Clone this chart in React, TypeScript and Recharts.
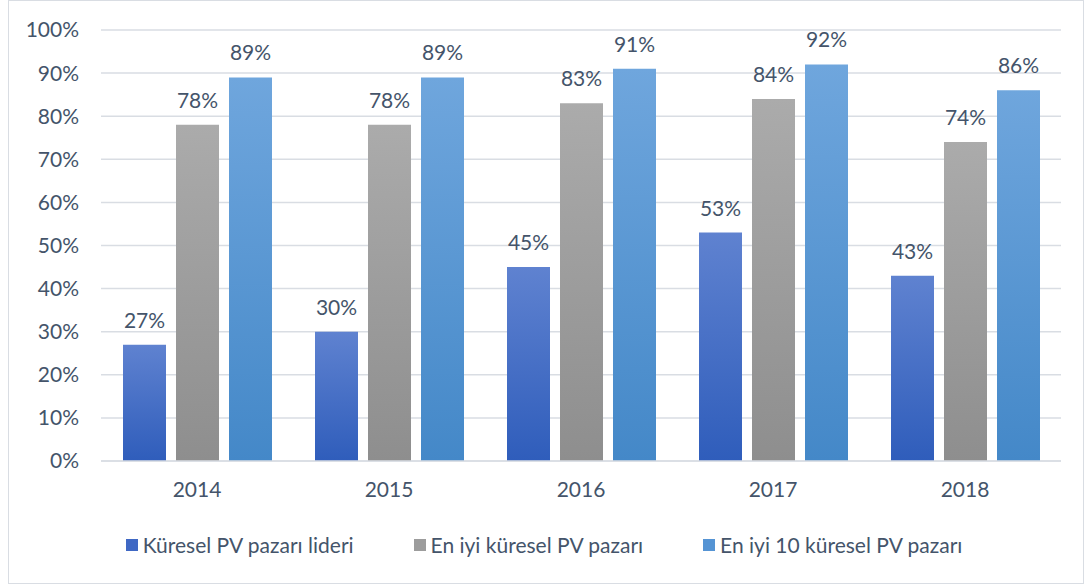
import { BarChart, Bar, XAxis, YAxis, CartesianGrid, LabelList } from 'recharts';

const years = ['2014', '2015', '2016', '2017', '2018'];
const leader = [27, 30, 45, 53, 43];
const topMarket = [78, 78, 83, 84, 74];
const top10 = [89, 89, 91, 92, 86];
const yTicks = [0, 10, 20, 30, 40, 50, 60, 70, 80, 90, 100];

const SERIES = [
  { key: 'leader', name: 'Küresel PV pazarı lideri', grad: 'gLeader', top: '#5F82D0', bottom: '#2F5DBB', swatch: '#3F68C4' },
  { key: 'top', name: 'En iyi küresel PV pazarı', grad: 'gTop', top: '#ABABAB', bottom: '#8E8E8E', swatch: '#9C9C9C' },
  { key: 'top10', name: 'En iyi 10 küresel PV pazarı', grad: 'gTop10', top: '#6FA6DD', bottom: '#4488C8', swatch: '#5594D4' },
];

const TEXT = '#44546A';
const FONT = 'Lato, "Open Sans", sans-serif';
const FS = 21;

const data = years.map((y, i) => ({
  year: y,
  leader: leader[i],
  top: topMarket[i],
  top10: top10[i],
}));

export default function App() {
  return (
    <div style={{ position: 'absolute', left: 0, top: 0, width: 1088, height: 587, background: '#fff', fontFamily: FONT }}>
      <div
        style={{
          position: 'absolute',
          left: 8,
          top: 0,
          width: 1074,
          height: 582,
          border: '1px solid #D9DDE3',
        }}
      />
      <div style={{ position: 'absolute', left: 0, top: 0 }}>
        <BarChart
          width={1088}
          height={510}
          data={data}
          margin={{ top: 30, right: 27, bottom: 0, left: 0 }}
          barCategoryGap={21}
          barGap={10}
        >
          <defs>
            {SERIES.map((s) => (
              <linearGradient key={s.grad} id={s.grad} x1="0" y1="0" x2="0" y2="1">
                <stop offset="0%" stopColor={s.top} />
                <stop offset="100%" stopColor={s.bottom} />
              </linearGradient>
            ))}
          </defs>
          <CartesianGrid vertical={false} stroke="#D9DDE3" strokeWidth={1.5} />
          <XAxis
            dataKey="year"
            axisLine={{ stroke: '#D9DDE3', strokeWidth: 1.5 }}
            tickLine={false}
            tickSize={0}
            tickMargin={21}
            height={49}
            tick={{ fill: TEXT, fontSize: FS, fontFamily: FONT }}
          />
          <YAxis
            domain={[0, 100]}
            ticks={yTicks}
            interval={0}
            width={101}
            axisLine={false}
            tickLine={false}
            tickSize={0}
            tickMargin={22}
            tickFormatter={(v) => `${v}%`}
            tick={{ fill: TEXT, fontSize: FS, fontFamily: FONT }}
          />
          {SERIES.map((s) => (
            <Bar key={s.key} dataKey={s.key} name={s.name} fill={`url(#${s.grad})`} barSize={43} isAnimationActive={false}>
              <LabelList
                dataKey={s.key}
                position="top"
                offset={17}
                formatter={(v: number) => `${v}%`}
                style={{ fill: TEXT, fontSize: FS, fontFamily: FONT }}
              />
            </Bar>
          ))}
        </BarChart>
      </div>
      <div
        style={{
          position: 'absolute',
          left: 0,
          top: 531,
          width: 1088,
          display: 'flex',
          justifyContent: 'center',
          gap: 60,
          color: TEXT,
          fontSize: FS,
          lineHeight: '28px',
        }}
      >
        {SERIES.map((s) => (
          <div key={s.key} style={{ display: 'flex', alignItems: 'center' }}>
            <span style={{ display: 'inline-block', width: 12, height: 12, background: s.swatch, marginRight: 5 }} />
            <span>{s.name}</span>
          </div>
        ))}
      </div>
    </div>
  );
}
